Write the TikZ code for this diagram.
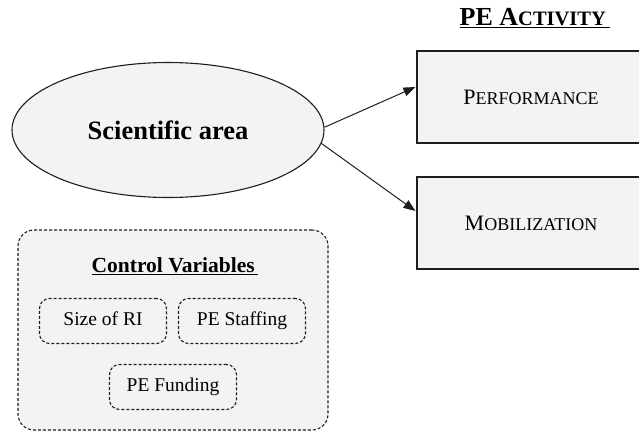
\documentclass[tikz,border=0pt]{standalone}
\usepackage{fontspec}
\setmainfont{Liberation Serif}
\usetikzlibrary{shapes.geometric,arrows.meta,calc}
\definecolor{boxfill}{HTML}{F3F3F3}
\definecolor{linec}{HTML}{1E1E1E}
\begin{document}
\begin{tikzpicture}[x=1pt,y=-1pt,
  solidbox/.style={draw=linec,line width=1.1pt,fill=boxfill,rectangle,minimum width=228pt,minimum height=92pt,inner sep=0pt},
  ovalbox/.style={draw=linec,line width=1.1pt,fill=boxfill,ellipse,minimum width=312pt,minimum height=135pt,inner sep=0pt},
  groupbox/.style={draw=linec,line width=1.1pt,dash pattern=on 3pt off 2pt,fill=boxfill,rounded corners=16pt,minimum width=310pt,minimum height=200pt,inner sep=0pt},
  varbox/.style={draw=linec,line width=1.1pt,dash pattern=on 3pt off 2pt,rounded corners=10pt,minimum width=127pt,minimum height=45pt,inner sep=0pt,text height=13pt,text depth=4pt,font=\fontsize{19.5}{22}\selectfont},
  arr/.style={draw=linec,line width=1pt,-{Triangle[length=12pt,width=9pt]}},
  sc/.style={font=\fontsize{22}{24}\selectfont}
]
\useasboundingbox (0,0) rectangle (639,440);
\clip (0,0) rectangle (639,440);
\node[ovalbox,font=\fontsize{26.5}{30}\selectfont\bfseries] (sci) at (168,130) {Scientific area};
\node[solidbox,sc] (perf) at (531,97) {P{\fontsize{18}{20}\selectfont ERFORMANCE}};
\node[solidbox,sc] (mob) at (531,223) {M{\fontsize{18}{20}\selectfont OBILIZATION}};
\node[font=\fontsize{26}{28}\selectfont\bfseries] (title) at (535,18) {\underline{PE A{\fontsize{20.5}{22}\selectfont CTIVITY}\,}};
\node[groupbox] (grp) at (173,330) {};
\node[font=\fontsize{21.5}{24}\selectfont\bfseries] (ctl) at (175,266) {\underline{Control Variables\,}};
\node[varbox] (size) at (103,321) {Size of RI};
\node[varbox] (staff) at (242,321) {PE Staffing};
\node[varbox] (fund) at (173,387) {PE Funding};
\draw[arr] (sci.1.5) -- ($(perf.west)+(-1,-10)$);
\draw[arr] (sci.-5) -- ($(mob.west)+(-1,-12)$);
\end{tikzpicture}
\end{document}
